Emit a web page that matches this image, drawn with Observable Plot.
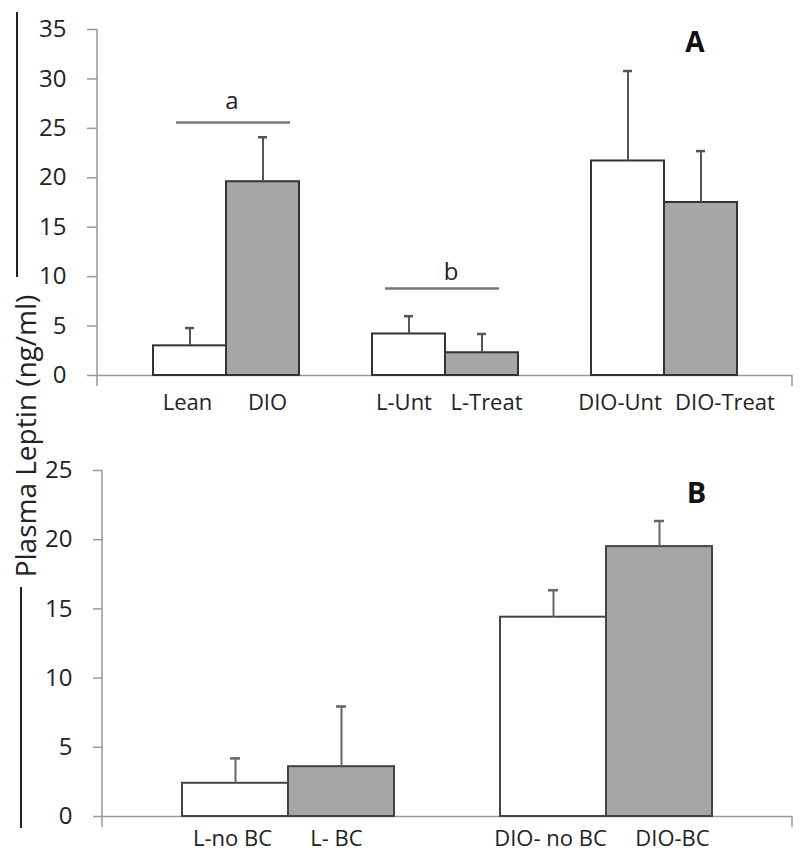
<!DOCTYPE html>
<html><head><meta charset="utf-8">
<script src="https://cdn.jsdelivr.net/npm/d3@7"></script>
<script src="https://cdn.jsdelivr.net/npm/@observablehq/plot@0.6"></script>
<style>
body{margin:0;background:#fff;}
#wrap{position:relative;width:800px;height:853px;font-family:"Open Sans",sans-serif;overflow:hidden;}
#a{position:absolute;left:0;top:0;}
#b{position:absolute;left:0;top:420px;}
#ylab{position:absolute;left:25px;top:436px;transform:translate(-50%,-50%) rotate(-90deg);font-size:28px;color:#222;white-space:nowrap;line-height:1;}
.deco{position:absolute;background:#222;width:2px;}
</style></head><body>
<div id="wrap">
<div id="a"></div><div id="b"></div>
<div class="deco" style="left:16px;top:12px;height:265px"></div>
<div class="deco" style="left:20px;top:587px;height:241px"></div>
<div id="ylab">Plasma Leptin (ng/ml)</div>
</div>
<script>
// ---- Panel A data ----
const categoriesA = ["Lean", "DIO", "L-Unt", "L-Treat", "DIO-Unt", "DIO-Treat"];
const meansA = [3.0, 19.6, 4.2, 2.3, 21.7, 17.5];
const errorsA = [1.8, 4.5, 1.8, 1.9, 9.1, 5.2];
const treatedA = [false, true, false, true, false, true];
const yTicksA = [0, 5, 10, 15, 20, 25, 30, 35];
const sigA = [
  {from: "Lean", to: "DIO", y: 25.6, label: "a", labelY: 27.75},
  {from: "L-Unt", to: "L-Treat", y: 8.8, label: "b", labelY: 10.4}
];
const panelA = {text: "A", at: "DIO-Treat", y: 33.6};

// ---- Panel B data ----
const categoriesB = ["L-no BC", "L- BC", "DIO- no BC", "DIO-BC"];
const meansB = [2.4, 3.6, 14.4, 19.5];
const errorsB = [1.8, 4.35, 1.95, 1.85];
const treatedB = [false, true, false, true];
const yTicksB = [0, 5, 10, 15, 20, 25];
const panelB = {text: "B", at: "DIO-BC", y: 23.3};

// ---- layout (label nudges in px, not data) ----
const nudgeA = [-2.5, 4.5, -5, 4.5, -8, 24];
const nudgeB = [-3, -5, -3, 13];

const WHITE = "#ffffff", GRAY = "#a6a6a6";

function slots(cats) {
  const out = [];
  for (let i = 0; i < cats.length; i += 2) {
    if (i > 0) out.push(" ".repeat(i / 2));
    out.push(cats[i], cats[i + 1]);
  }
  return out;
}

function table(cats, means, errs, treated) {
  return cats.map((c, i) => ({cat: c, mean: means[i], err: errs[i], fill: treated[i] ? GRAY : WHITE}));
}

function catLabels(cats, nudges, pad) {
  return cats.map((c, i) => Plot.text([c], {
    x: d => d, text: d => d, frameAnchor: "bottom", lineAnchor: "top",
    dy: pad, dx: nudges[i], fontSize: 22, fill: "#222"
  }));
}

function addAxisLines(plot, ext) {
  const sx = plot.scale("x"), sy = plot.scale("y");
  const svg = d3.select(plot);
  const x0 = sx.range[0], x1 = sx.range[1];
  const yb = sy.range[0], yt = sy.range[1];
  svg.append("line").attr("x1", x0).attr("x2", x0).attr("y1", yt).attr("y2", yb + ext)
    .attr("stroke", "#999").attr("stroke-width", 1.5);
  svg.append("line").attr("x1", x1).attr("x2", x1).attr("y1", yb).attr("y2", yb + ext)
    .attr("stroke", "#999").attr("stroke-width", 1.5);
}

const dataA = table(categoriesA, meansA, errorsA, treatedA);
const plotA = Plot.plot({
  width: 800, height: 420,
  marginLeft: 97, marginRight: 8, marginTop: 29, marginBottom: 45,
  style: {fontFamily: "Open Sans", fontSize: "24px", color: "#222", background: "transparent"},
  x: {type: "band", domain: slots(categoriesA), paddingInner: 0, paddingOuter: 0.735, axis: null},
  y: {domain: [0, 35]},
  color: {type: "identity"},
  marks: [
    Plot.axisY({ticks: yTicksA, tickSize: 10, tickPadding: 21, stroke: "#999", strokeWidth: 1.5, fill: "#222", fontSize: 24, label: null}),
    ...catLabels(categoriesA, nudgeA, 19),
    Plot.ruleY([0], {stroke: "#999", strokeWidth: 1.5}),
    Plot.barY(dataA, {x: "cat", y: "mean", fill: "fill", stroke: "#333", strokeWidth: 2}),
    Plot.ruleX(dataA, {x: "cat", y1: "mean", y2: d => d.mean + d.err, stroke: "#555", strokeWidth: 2}),
    Plot.tickY(dataA, {x: "cat", y: d => d.mean + d.err, stroke: "#555", strokeWidth: 2.5, insetLeft: 32, insetRight: 32}),
    Plot.ruleY([sigA[0]], {x1: "from", x2: "to", y: "y", stroke: "#777", strokeWidth: 2.5, insetLeft: 23, insetRight: 9}),
    Plot.ruleY([sigA[1]], {x1: "from", x2: "to", y: "y", stroke: "#777", strokeWidth: 2.5, insetLeft: 13, insetRight: 19}),
    Plot.text(sigA, {x: "from", y: "labelY", text: "label", dx: 42, fontSize: 24, fill: "#222"}),
    Plot.text([panelA], {x: "at", y: "y", text: "text", dx: -6, fontSize: 28, fontWeight: "bold", fill: "#111"})
  ]
});
addAxisLines(plotA, 11);
document.getElementById("a").appendChild(plotA);

const dataB = table(categoriesB, meansB, errorsB, treatedB);
const plotB = Plot.plot({
  width: 800, height: 433,
  marginLeft: 102, marginRight: 8, marginTop: 50, marginBottom: 37,
  style: {fontFamily: "Open Sans", fontSize: "24px", color: "#222", background: "transparent"},
  x: {type: "band", domain: slots(categoriesB), paddingInner: 0, paddingOuter: 0.74, axis: null},
  y: {domain: [0, 25]},
  color: {type: "identity"},
  marks: [
    Plot.axisY({ticks: yTicksB, tickSize: 9, tickPadding: 21, stroke: "#999", strokeWidth: 1.5, fill: "#222", fontSize: 24, label: null}),
    ...catLabels(categoriesB, nudgeB, 14),
    Plot.ruleY([0], {stroke: "#999", strokeWidth: 1.5}),
    Plot.barY(dataB, {x: "cat", y: "mean", fill: "fill", stroke: "#444", strokeWidth: 2}),
    Plot.ruleX(dataB, {x: "cat", y1: "mean", y2: d => d.mean + d.err, stroke: "#666", strokeWidth: 2}),
    Plot.tickY(dataB, {x: "cat", y: d => d.mean + d.err, stroke: "#666", strokeWidth: 2.5, insetLeft: 48, insetRight: 48}),
    Plot.text([panelB], {x: "at", y: "y", text: "text", dx: 37, fontSize: 29, fontWeight: "bold", fill: "#111"})
  ]
});
addAxisLines(plotB, 11);
document.getElementById("b").appendChild(plotB);
</script>
</body></html>
